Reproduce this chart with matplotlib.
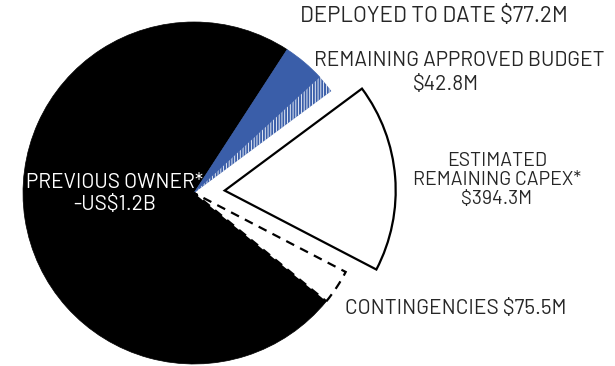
import matplotlib
matplotlib.use("Agg")
import matplotlib.pyplot as plt

# Labels and amounts (as printed on the chart)
labels = ["DEPLOYED TO DATE $77.2M",
          "REMAINING APPROVED BUDGET\n$42.8M",
          "ESTIMATED\nREMAINING CAPEX*\n$394.3M",
          "CONTINGENCIES $75.5M",
          "PREVIOUS OWNER*\n-US$1.2B"]
amounts_musd = [77.2, 42.8, 394.3, 75.5, 1200.0]
# Slice sizes as drawn in the picture (degrees; the original is not to scale)
slice_degrees = [14.4, 6.0, 64.1, 11.8, 263.7]
explode = [0, 0, 0.18, 0, 0]

BLUE = "#3a5ea9"
W, H = 615, 366
fig = plt.figure(figsize=(W / 100, H / 100), dpi=100)
ax = fig.add_axes([0, 0, 1, 1])
cx, cy, R = 194, 193, 171
plt.rcParams["hatch.linewidth"] = 0.6

wedges, _ = ax.pie(slice_degrees, explode=explode, startangle=57,
                   counterclock=False, radius=1, center=(0, 0), frame=True)
ax.set_xlim(-cx / R, (W - cx) / R)
ax.set_ylim(-(H - cy) / R, cy / R)
ax.set_aspect("auto")
ax.axis("off")

wedges[0].set(facecolor=BLUE, edgecolor=BLUE, linewidth=0.5)
wedges[1].set(facecolor=BLUE, edgecolor="white", linewidth=0, hatch="||||||")
wedges[2].set(facecolor="white", edgecolor="black", linewidth=1.6, joinstyle="miter")
wedges[3].set(facecolor="white", edgecolor="black", linewidth=1.6, linestyle=(0, (4, 3)))
wedges[4].set(facecolor="black", edgecolor="black", linewidth=0.5)
wedges[4].set_zorder(0)

def ftext(px, py, s, color="#262626", ha="center", ls=1.1, size=15):
    fig.text(px / W, 1 - py / H, s, color=color, ha=ha, va="center",
             linespacing=ls, family=["Barlow", "DejaVu Sans"], fontsize=size,
             weight="normal")

ftext(434, 17, labels[0], size=16)
budget_l1, budget_l2 = labels[1].split("\n")
ftext(459, 60, budget_l1)
ftext(446, 84, budget_l2)
ftext(497, 180, labels[2], ls=1.1, size=14)
ftext(456, 308, labels[3])
ftext(115, 194, labels[4], color="white", ls=1.2)

fig.savefig("out.png", dpi=100)
